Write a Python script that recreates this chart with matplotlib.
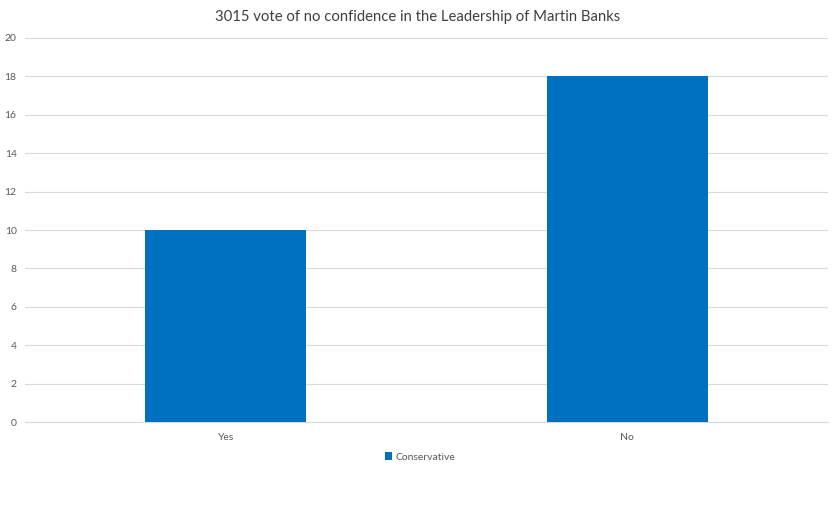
import matplotlib
matplotlib.use("Agg")
import matplotlib.pyplot as plt

categories = ["Yes", "No"]
votes = [10, 18]
series_name = "Conservative"
title = "3015 vote of no confidence in the Leadership of Martin Banks"
y_ticks = [0, 2, 4, 6, 8, 10, 12, 14, 16, 18, 20]

plt.rcParams['font.family'] = ['Lato', 'DejaVu Sans']

fig = plt.figure(figsize=(8.37, 5.27), dpi=100)
ax = fig.add_axes([25/837, 1 - 422/527, 803/837, 384/527])

x = range(len(categories))
ax.bar(x, votes, width=0.4, color="#0070C0", label=series_name, zorder=3)

ax.set_xlim(-0.5, len(categories) - 0.5)
ax.set_ylim(0, 20)
ax.set_yticks(y_ticks)
ax.set_xticks(list(x))
ax.set_xticklabels(categories)
ax.tick_params(axis="both", length=0, labelsize=7.5, colors="#595959")
ax.tick_params(axis="y", pad=6)
ax.tick_params(axis="x", pad=8)
ax.grid(axis="y", color="#D9D9D9", linewidth=0.8, zorder=0)
for s in ["top", "right", "left"]:
    ax.spines[s].set_visible(False)
ax.spines["bottom"].set_color("#D9D9D9")

fig.text(418/837, 1 - 17/527, title, ha="center", va="center", fontsize=10.7, color="#404040")

leg = fig.legend(loc="center", bbox_to_anchor=(420/837, 1 - 457/527), frameon=False,
                 fontsize=7.5, handlelength=0.7, handleheight=0.7, handletextpad=0.3)
for t in leg.get_texts():
    t.set_color("#595959")

fig.savefig("out.png", dpi=100)
